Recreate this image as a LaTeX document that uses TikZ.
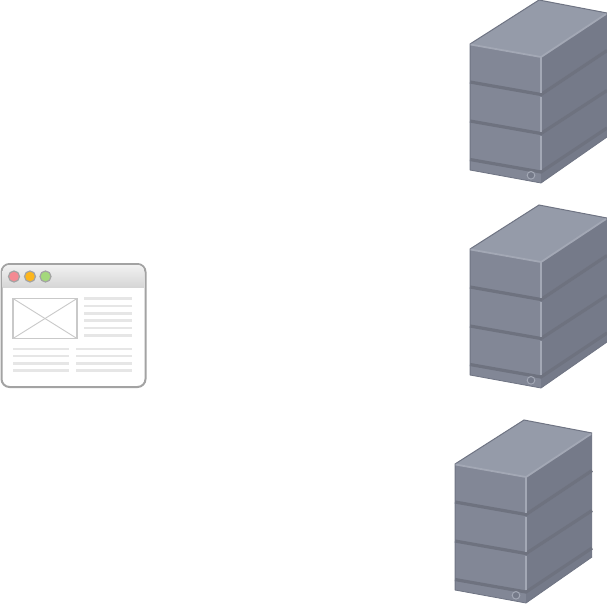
\documentclass[tikz,border=0pt]{standalone}
\definecolor{srvtop}{HTML}{959BA9}
\definecolor{srvfront}{HTML}{828796}
\definecolor{srvside}{HTML}{757A89}
\definecolor{srvedge}{HTML}{6F7483}
\definecolor{srvlight}{HTML}{A3A8B5}
\definecolor{srvband}{HTML}{6E727F}
\definecolor{winborder}{HTML}{A3A3A3}
\definecolor{winline}{HTML}{E6E6E6}
\definecolor{winsketch}{HTML}{C9C9C9}
\definecolor{winred}{HTML}{F48A92}
\definecolor{winamber}{HTML}{FDB61C}
\definecolor{wingreen}{HTML}{A4D87C}

\begin{document}
\begin{tikzpicture}[
  x=1pt, y=-1pt,
  band/.style={line width=3.2pt, srvband},
  shine/.style={line width=1.8pt, srvlight},
  textline/.style={line width=2.8pt, winline},
  winbutton/.style={draw=winborder, line width=1.2pt, fill=#1},
  server/.pic={
    % Faces
    \fill[srvtop] (0,44) -- (69,0) -- (137,13) -- (71,57) -- cycle;
    \fill[srvfront] (0,44) -- (71,57) -- (71,183) -- (0,170) -- cycle;
    \fill[srvside] (71,57) -- (137,13) -- (137,137) -- (71,183) -- cycle;
    % Bands
    \draw[band] (0,82) -- (71,94.5) -- (137,50.5);
    \draw[band] (0,121) -- (71,133.5) -- (137,90.5);
    \draw[band] (0,159.5) -- (71,172) -- (137,128);
    % Edges
    \draw[line width=1pt, srvedge] (0,170) -- (0,44) -- (69,0) -- (137,13);
    \draw[line width=0.8pt, srvedge] (0,170) -- (71,183) -- (137,137);
    \draw[shine] (0.5,44.5) -- (71,57) -- (136,14);
    \draw[shine] (71,57) -- (71,92.5);
    \draw[shine] (71,96.5) -- (71,131.5);
    \draw[shine] (71,135.5) -- (71,170);
    % Power button
    \draw[line width=1pt, srvlight, fill=srvside] (61,175.3) circle (3.8);
  },
]
\useasboundingbox (0,0) rectangle (607,603);

% Servers
\pic at (470,0) {server};
\pic at (470,205) {server};
\pic at (455,420) {server};

% Browser window
\draw[winborder, line width=2pt, fill=white, rounded corners=8pt] (1.5,264) rectangle (145.5,387);
\begin{scope}
  \clip[rounded corners=7pt] (2.5,265) rectangle (144.5,386);
  \shade[top color=white!95!black, bottom color=white!84!black] (2,264) rectangle (145,287);
\end{scope}

% Buttons
\draw[winbutton=winred] (14,276.5) circle (5.5);
\draw[winbutton=winamber] (30,276.5) circle (5.5);
\draw[winbutton=wingreen] (45.5,276.5) circle (5.5);

% Picture placeholder
\draw[winsketch, line width=1.2pt] (13,298.5) rectangle (77,338.5);
\draw[winsketch, line width=0.9pt] (13,298.5) -- (77,338.5);
\draw[winsketch, line width=0.9pt] (13,338.5) -- (77,298.5);

% Text lines
\foreach \ypos in {298.5,306,313.5,320.5,328,335.5}
  \draw[textline] (84,\ypos) -- (132,\ypos);
\foreach \ypos in {349,356,363.5,370.5} {
  \draw[textline] (13,\ypos) -- (69,\ypos);
  \draw[textline] (76,\ypos) -- (132,\ypos);
}
\end{tikzpicture}
\end{document}
